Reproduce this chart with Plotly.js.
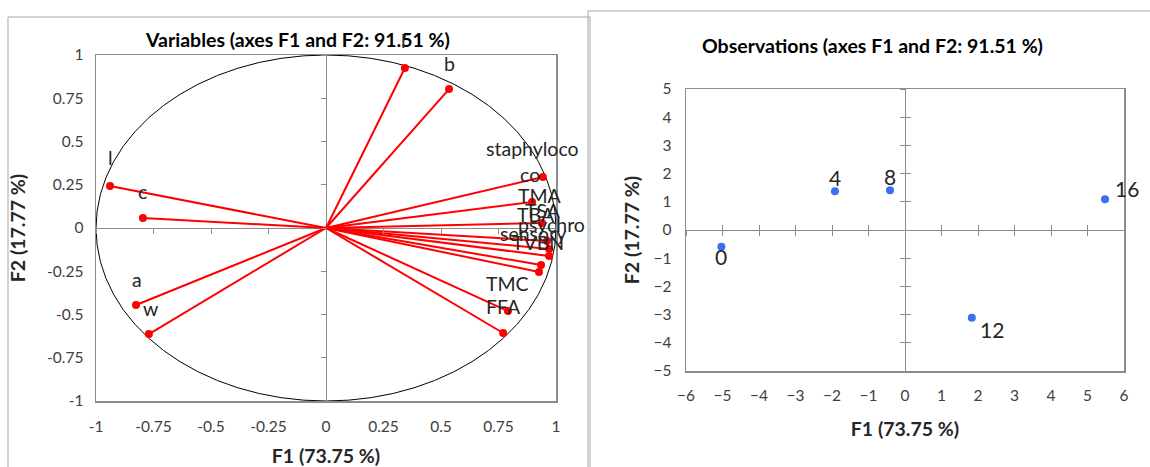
<!DOCTYPE html>
<html><head><meta charset="utf-8">
<script src="https://cdn.plot.ly/plotly-3.0.1.min.js"></script>
<style>html,body{margin:0;padding:0;background:#fff}#chart{width:1150px;height:467px}</style>
</head><body><div id="chart"></div>
<script>
// ---- data ----
const varNames = ['l','b','l','c','a','w','staphyloco','co','TMA','TBA','TSA','psychro','sensory','TVBN','TMC','FFA'];
const varF1 = [0.343,0.535,-0.939,-0.796,-0.826,-0.770,0.943,0.896,0.939,0.961,0.970,0.970,0.935,0.926,0.791,0.770];
const varF2 = [0.925,0.803,0.243,0.058,-0.445,-0.613,0.295,0.150,0.029,-0.075,-0.121,-0.162,-0.214,-0.254,-0.480,-0.607];
const obsNames = ['0','4','8','12','16'];
const obsF1 = [-5.03,-1.92,-0.41,1.83,5.48];
const obsF2 = [-0.59,1.37,1.41,-3.11,1.09];
const varTicks = [-1,-0.75,-0.5,-0.25,0,0.25,0.5,0.75,1];
const varTickText = ['-1','-0.75','-0.5','-0.25','0','0.25','0.5','0.75','1'];
const obsXTicks = [-6,-5,-4,-3,-2,-1,0,1,2,3,4,5,6];
const obsYTicks = [-5,-4,-3,-2,-1,0,1,2,3,4,5];
const titleVar = 'Variables (axes F1 and F2: 91.51 %)';
const titleObs = 'Observations (axes F1 and F2: 91.51 %)';
const xTitle = 'F1 (73.75 %)';
const yTitle = 'F2 (17.77 %)';

// ---- styles (label offsets in pixels) ----
const varLabelDX = [-1,0,0,0,1,2,-10,-2,-2,-11,-6,2,-8,-1,0,0];
const varLabelDY = [27,26,28,26,25,26,28,28,27,26,38,32,32,29,28,27];
const obsLabelDX = [0,0,0,20,22];
const obsLabelDY = [-10,14,14,-12,11];

const W = 1150, H = 467;
const px = v => v / W, py = v => 1 - v / H;
const FONT = 'Lato, "Open Sans", sans-serif';
const GRAY = '#8c8c8c';
const TXT = '#404040';

const dL = {x:[px(96),px(556)], y:[py(401),py(55)]};
const dR = {x:[px(686),px(1124)], y:[py(371),py(89)]};
const mid = a => (a[0]+a[1])/2;

// vector lines built from data
const lx = [], ly = [];
varF1.forEach((v,i)=>{ lx.push(0, v, null); ly.push(0, varF2[i], null); });

const traces = [
  {type:'scatter', mode:'lines', x:lx, y:ly, xaxis:'x', yaxis:'y', line:{color:'#ff0000', width:2}, hoverinfo:'skip', showlegend:false},
  {type:'scatter', mode:'markers', x:varF1, y:varF2, text:varNames, xaxis:'x', yaxis:'y', marker:{color:'#ff0000', size:8}, showlegend:false},
  {type:'scatter', mode:'markers', x:obsF1, y:obsF2, text:obsNames, cliponaxis:false,
   xaxis:'x2', yaxis:'y2', marker:{color:'#3a6ff0', size:8}, showlegend:false},
  // carriers for zero-line tick axes
  {type:'scatter', x:[], y:[], xaxis:'x3', yaxis:'y', showlegend:false, hoverinfo:'skip'},
  {type:'scatter', x:[], y:[], xaxis:'x', yaxis:'y3', showlegend:false, hoverinfo:'skip'},
  {type:'scatter', x:[], y:[], xaxis:'x4', yaxis:'y2', showlegend:false, hoverinfo:'skip'},
  {type:'scatter', x:[], y:[], xaxis:'x5', yaxis:'y2', showlegend:false, hoverinfo:'skip'},
  {type:'scatter', x:[], y:[], xaxis:'x2', yaxis:'y4', showlegend:false, hoverinfo:'skip'},
  {type:'scatter', x:[], y:[], xaxis:'x2', yaxis:'y5', showlegend:false, hoverinfo:'skip'}
];

const tickFont = {family:FONT, size:15.5, color:TXT};
const axTitleFont = {family:FONT, size:19.5, color:'#262626', weight:'bold'};
const base = {showgrid:false, showline:true, mirror:true, linecolor:GRAY, linewidth:1.5,
  zeroline:true, zerolinecolor:GRAY, zerolinewidth:1, ticks:'outside', tickcolor:'rgba(0,0,0,0)',
  tickfont:tickFont, fixedrange:true};
const tickAx = (range, vals, pos, dir) => ({range:range, tickvals:vals, showticklabels:false, showgrid:false,
  showline:false, zeroline:false, ticks:dir, ticklen:5, tickwidth:1, tickcolor:GRAY, anchor:'free', position:pos, fixedrange:true});

const layout = {
  width:W, height:H, margin:{l:0,r:0,t:0,b:0}, paper_bgcolor:'#fff', plot_bgcolor:'rgba(0,0,0,0)',
  showlegend:false, font:{family:FONT},
  xaxis: Object.assign({}, base, {domain:dL.x, anchor:'y', range:[-1,1], tickvals:varTicks, ticktext:varTickText, ticklen:11,
    title:{text:xTitle, font:axTitleFont, standoff:16}}),
  yaxis: Object.assign({}, base, {domain:dL.y, anchor:'x', range:[-1,1], tickvals:varTicks, ticktext:varTickText, ticklen:8,
    title:{text:yTitle, font:axTitleFont, standoff:16}}),
  xaxis2: Object.assign({}, base, {domain:dR.x, anchor:'y2', range:[-6,6], tickvals:obsXTicks, ticklen:10,
    title:{text:xTitle, font:axTitleFont, standoff:19}}),
  yaxis2: Object.assign({}, base, {domain:dR.y, anchor:'x2', range:[-5,5], tickvals:obsYTicks, ticklen:10,
    title:{text:yTitle, font:axTitleFont, standoff:8}}),
  xaxis3: Object.assign(tickAx([-1,1], varTicks, mid(dL.y), 'outside'), {overlaying:'x'}),
  yaxis3: Object.assign(tickAx([-1,1], varTicks, mid(dL.x), 'outside'), {overlaying:'y'}),
  xaxis4: Object.assign(tickAx([-6,6], obsXTicks, mid(dR.y), 'outside'), {overlaying:'x2'}),
  xaxis5: Object.assign(tickAx([-6,6], obsXTicks, mid(dR.y), 'inside'), {overlaying:'x2'}),
  yaxis4: Object.assign(tickAx([-5,5], obsYTicks, mid(dR.x), 'outside'), {overlaying:'y2'}),
  yaxis5: Object.assign(tickAx([-5,5], obsYTicks, mid(dR.x), 'inside'), {overlaying:'y2'}),
  shapes: [
    {type:'circle', xref:'x', yref:'y', x0:-1, x1:1, y0:-1, y1:1, line:{color:'#000', width:1}, layer:'below'},
    {type:'rect', xref:'paper', yref:'paper', x0:px(8), x1:px(590), y0:-0.05, y1:py(17), line:{color:'#a6a6a6', width:1}},
    {type:'rect', xref:'paper', yref:'paper', x0:px(588), x1:1.01, y0:-0.05, y1:py(11), line:{color:'#a6a6a6', width:1}}
  ],
  annotations: [
    {xref:'paper', yref:'paper', x:px(297), y:py(40), text:'<b>'+titleVar+'</b>', showarrow:false,
     font:{family:FONT, size:19.5, color:'#000'}, xanchor:'center', yanchor:'middle'},
    {xref:'paper', yref:'paper', x:px(872), y:py(45), text:'<b>'+titleObs+'</b>', showarrow:false,
     font:{family:FONT, size:19.5, color:'#000'}, xanchor:'center', yanchor:'middle'}
  ].concat(varNames.map((n,i)=>({xref:'x', yref:'y', x:varF1[i], y:varF2[i], text:n, showarrow:false,
     xshift:varLabelDX[i], yshift:varLabelDY[i], xanchor:'center', yanchor:'middle',
     font:{family:FONT, size:19.5, color:'#262626'}})))
   .concat(obsNames.map((n,i)=>({xref:'x2', yref:'y2', x:obsF1[i], y:obsF2[i], text:n, showarrow:false,
     xshift:obsLabelDX[i], yshift:obsLabelDY[i], xanchor:'center', yanchor:'middle',
     font:{family:FONT, size:21, color:'#262626'}})))
};

Plotly.newPlot('chart', traces, layout, {staticPlot:true});
</script></body></html>
